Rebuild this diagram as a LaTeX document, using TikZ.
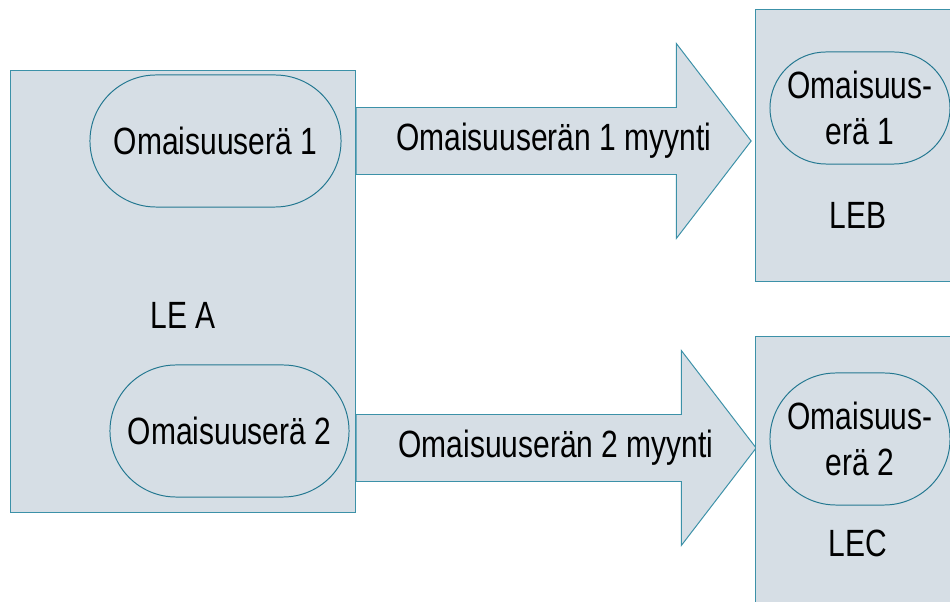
\documentclass[tikz,border=0pt]{standalone}
\usepackage{fontspec}
\setmainfont{Liberation Sans}[FakeStretch=0.79]
\usetikzlibrary{shapes.misc,shapes.arrows,positioning}
\definecolor{boxfill}{RGB}{214,222,229}
\definecolor{boxline}{RGB}{60,145,168}
\definecolor{assetline}{RGB}{36,120,145}

\begin{document}
\begin{tikzpicture}[
		x=0.025cm,y=-0.025cm,
		line width=0.7pt,
		entity/.style={
			draw=boxline,
			fill=boxfill,
			rectangle,
			inner sep=0pt
		},
		asset/.style={
			draw=assetline,
			fill=boxfill,
			rounded rectangle,
			inner sep=0pt,
			align=center
		},
		sale/.style={
			draw=boxline,
			fill=boxfill,
			single arrow,
			single arrow head extend=1.6cm,
			single arrow tip angle=105,
			text height=1.1cm,
			text depth=0.55cm,
			inner ysep=0pt,
			anchor=tail
		},
		every node/.style={font=\fontsize{27}{32.6}\selectfont}
		]
		\clip (0,0) rectangle (950,602);
		% Selling entity
		\node[entity, minimum width=8.6cm, minimum height=11.025cm] (LEA) at (183,291.5) {};
		\node[asset, minimum width=6.275cm, minimum height=3.3cm] (A1) at (215.5,141) {Omaisuuserä 1};
		\node[asset, minimum width=5.975cm, minimum height=3.3cm] (A2) at (229.5,431) {Omaisuuserä 2};
		\node (LEAlabel) at (183,315) {LE A};
		
		% Sales
		\node[sale, minimum height=9.875cm] (S1) at (LEA.east |- A1) {};
		\path (S1.tail) -- (S1.tip) node[midway] (S1label) {Omaisuuserän 1 myynti};
		\node[sale, minimum height=10cm] (S2) at (LEA.east |- 0,448) {};
		\path (S2.tail) -- (S2.tip) node[midway] (S2label) {Omaisuuserän 2 myynti};
		
		% Buying entities
		\node[entity, minimum width=5.6cm, minimum height=6.775cm] (LEB) at (868,145.5) {};
		\node[asset, minimum width=4.5cm, minimum height=2.8cm] (B1) at (860,108) {Omaisuus-\\erä 1};
		\node (LEBlabel) at (858,215) {LEB};
		
		\node[entity, minimum width=5.6cm, minimum height=7.575cm] (LEC) at (868,488.5) {};
		\node[asset, minimum width=4.5cm, minimum height=3.3cm] (C2) at (860,439) {Omaisuus-\\erä 2};
		\node (LEClabel) at (858,543) {LEC};
	\end{tikzpicture}
\end{document}
